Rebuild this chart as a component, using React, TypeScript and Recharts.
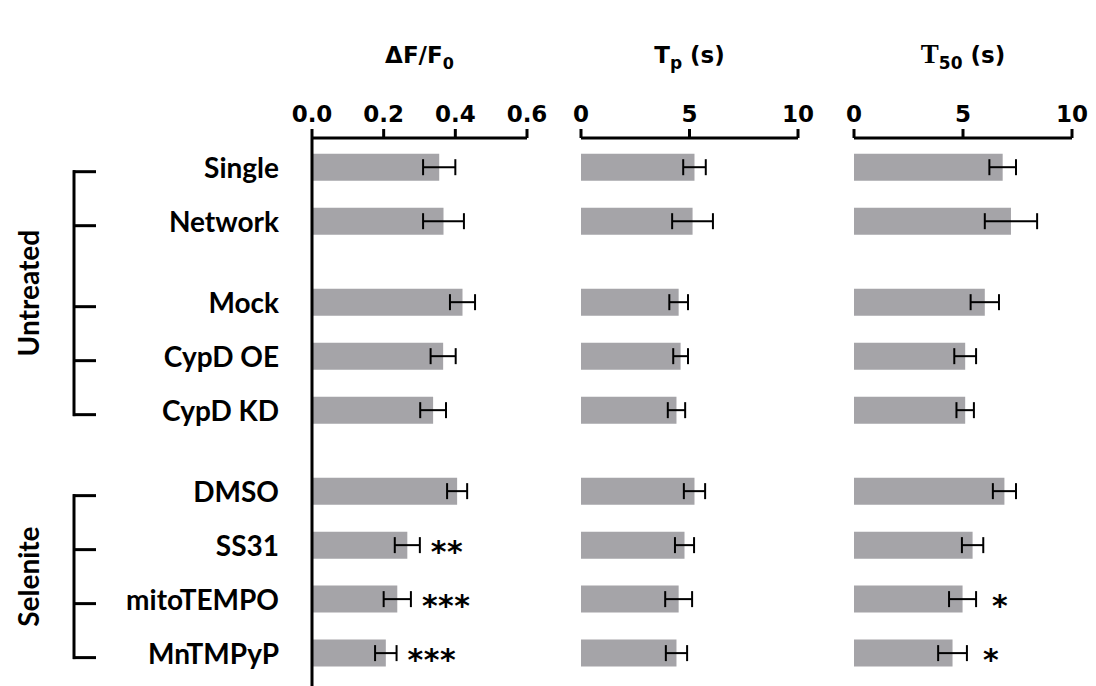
import React from 'react'
import { BarChart, Bar, XAxis, YAxis, ErrorBar, LabelList } from 'recharts'

// categories, top to bottom; BLOCK marks the blank half-row gaps between blocks
const CATEGORIES = ['Single', 'Network', 'Mock', 'CypD OE', 'CypD KD', 'DMSO', 'SS31', 'mitoTEMPO', 'MnTMPyP']
const BLOCK = [0, 0, 1, 1, 1, 2, 2, 2, 2]
const GROUPS = [
  { name: 'Untreated', from: 0, to: 4 },
  { name: 'Selenite', from: 5, to: 8 },
]

// ΔF/F0
const DF_F0 = [0.355, 0.367, 0.42, 0.366, 0.338, 0.405, 0.266, 0.238, 0.206]
const DF_F0_ERR = [0.045, 0.057, 0.035, 0.035, 0.036, 0.028, 0.035, 0.038, 0.03]
const DF_F0_SIG = ['', '', '', '', '', '', '**', '***', '***']

// Tp (s)
const TP = [5.23, 5.14, 4.5, 4.59, 4.4, 5.23, 4.77, 4.5, 4.4]
const TP_ERR = [0.52, 0.94, 0.43, 0.34, 0.4, 0.49, 0.44, 0.62, 0.49]
const TP_SIG = ['', '', '', '', '', '', '', '', '']

// T50 (s)
const T50 = [6.82, 7.2, 6.0, 5.1, 5.1, 6.9, 5.44, 4.98, 4.52]
const T50_ERR = [0.61, 1.2, 0.65, 0.5, 0.4, 0.53, 0.49, 0.62, 0.66]
const T50_SIG = ['', '', '', '', '', '', '', '*', '*']

const DF_TICKS = [0, 0.2, 0.4, 0.6]
const T_TICKS = [0, 5, 10]

const POS = CATEGORIES.map((_, i) => i + 0.5 * BLOCK[i])
const ROW_DOMAIN = [-0.55, 9.6]

const H = 686
const AXIS_H = 138
const BOTTOM = 0
const PX_PER_ROW = (H - AXIS_H - BOTTOM) / (ROW_DOMAIN[1] - ROW_DOMAIN[0])

const BAR = '#a5a4a8'
const LABEL_FONT = 'Lato, "Open Sans", sans-serif'
const TICK_FONT = '"DejaVu Sans", Verdana, sans-serif'

function CategoryTick(props: any) {
  const { y, payload } = props
  const i = POS.indexOf(payload.value)
  if (i < 0) return null
  const group = GROUPS.find((g) => g.from === i)
  const span = group ? (POS[group.to] - POS[group.from]) * PX_PER_ROW : 0
  return (
    <g>
      <text x={279} y={y} dy={10} textAnchor="end" fontFamily={LABEL_FONT} fontWeight="bold" fontSize={28} fill="#000">
        {CATEGORIES[i]}
      </text>
      <line x1={73} x2={96} y1={y + 4} y2={y + 4} stroke="#000" strokeWidth={3} />
      {group && (
        <>
          <line x1={74} x2={74} y1={y + 2.5} y2={y + span + 5.5} stroke="#000" strokeWidth={3} />
          <text
            x={39}
            y={y + 4 + span / 2}
            transform={`rotate(-90 39 ${y + 4 + span / 2})`}
            textAnchor="middle"
            fontFamily={LABEL_FONT}
            fontWeight="bold"
            fontSize={28}
            fill="#000"
          >
            {group.name}
          </text>
        </>
      )}
    </g>
  )
}

function Title(props: any) {
  const { viewBox, kind } = props
  const cx = viewBox.x + viewBox.width / 2
  const common = { fontFamily: TICK_FONT, fontWeight: 'bold' as const, fontSize: 23, fill: '#000' }
  if (kind === 'df') {
    return (
      <text x={cx} y={63} textAnchor="middle" {...common}>
        <tspan>ΔF/F</tspan>
        <tspan dy={6} fontSize={16}>0</tspan>
      </text>
    )
  }
  if (kind === 'tp') {
    return (
      <text x={cx} y={63} textAnchor="middle" {...common}>
        <tspan>T</tspan>
        <tspan dy={6} fontSize={17}>p</tspan>
        <tspan dy={-6}> (s)</tspan>
      </text>
    )
  }
  return (
    <text x={cx} y={63} textAnchor="middle" {...common}>
      <tspan fontFamily='"Liberation Serif", serif' fontSize={27}>T</tspan>
      <tspan dy={6} fontSize={17}>50</tspan>
      <tspan dy={-6}> (s)</tspan>
    </text>
  )
}

function Panel({ left, width, yWidth, marginLeft, domain, ticks, fmt, values, errs, sigs, kind, gap, labels }: any) {
  const rows = CATEGORIES.map((c, i) => ({ name: c, pos: POS[i], value: values[i], err: errs[i], sig: sigs[i] }))
  const renderSig = (p: any) => {
    const { x, y, width: w, height: h, index, value } = p
    if (!value) return null
    const r = rows[index]
    const errPx = r ? (r.err / r.value) * w : 0
    return (
      <text x={x + w + errPx + gap} y={y + h / 2 + 17} fontFamily={TICK_FONT} fontWeight="bold" fontSize={30} fill="#000" letterSpacing={0.5}>
        {value}
      </text>
    )
  }
  return (
    <div style={{ position: 'absolute', left, top: 0 }}>
      <BarChart
        layout="vertical"
        width={width}
        height={H}
        data={rows}
        margin={{ top: 0, right: 25, bottom: BOTTOM, left: marginLeft }}
      >
        <XAxis
          type="number"
          orientation="top"
          domain={domain}
          ticks={ticks}
          interval={0}
          height={AXIS_H}
          tickFormatter={fmt}
          axisLine={{ stroke: '#000', strokeWidth: 3 }}
          tickLine={{ stroke: '#000', strokeWidth: 3 }}
          tickSize={9}
          tickMargin={7}
          tick={{ fill: '#000', fontSize: 23, fontWeight: 'bold', fontFamily: TICK_FONT }}
          label={<Title kind={kind} />}
        />
        <YAxis
          type="number"
          dataKey="pos"
          domain={ROW_DOMAIN}
          ticks={POS}
          interval={0}
          width={yWidth}
          axisLine={{ stroke: '#000', strokeWidth: 3 }}
          tickLine={false}
          tick={labels ? <CategoryTick /> : false}
        />
        <Bar dataKey="value" fill={BAR} barSize={27} isAnimationActive={false}>
          <ErrorBar dataKey="err" direction="x" width={8} stroke="#000" strokeWidth={2} />
          <LabelList dataKey="sig" content={renderSig} />
        </Bar>
      </BarChart>
    </div>
  )
}

export default function App() {
  return (
    <div style={{ position: 'absolute', left: 0, top: 0, width: 1096, height: H, background: '#fff', overflow: 'hidden' }}>
      <Panel
        left={0}
        width={552}
        yWidth={312}
        marginLeft={0}
        domain={[0, 0.6]}
        ticks={DF_TICKS}
        fmt={(v: number) => v.toFixed(1)}
        values={DF_F0}
        errs={DF_F0_ERR}
        sigs={DF_F0_SIG}
        kind="df"
        gap={11}
        labels
      />
      <Panel
        left={556}
        width={267}
        yWidth={0}
        marginLeft={25}
        domain={[0, 10]}
        ticks={T_TICKS}
        fmt={(v: number) => String(v)}
        values={TP}
        errs={TP_ERR}
        sigs={TP_SIG}
        kind="tp"
        gap={16}
      />
      <Panel
        left={829}
        width={268}
        yWidth={0}
        marginLeft={25}
        domain={[0, 10]}
        ticks={T_TICKS}
        fmt={(v: number) => String(v)}
        values={T50}
        errs={T50_ERR}
        sigs={T50_SIG}
        kind="t50"
        gap={16}
      />
    </div>
  )
}
